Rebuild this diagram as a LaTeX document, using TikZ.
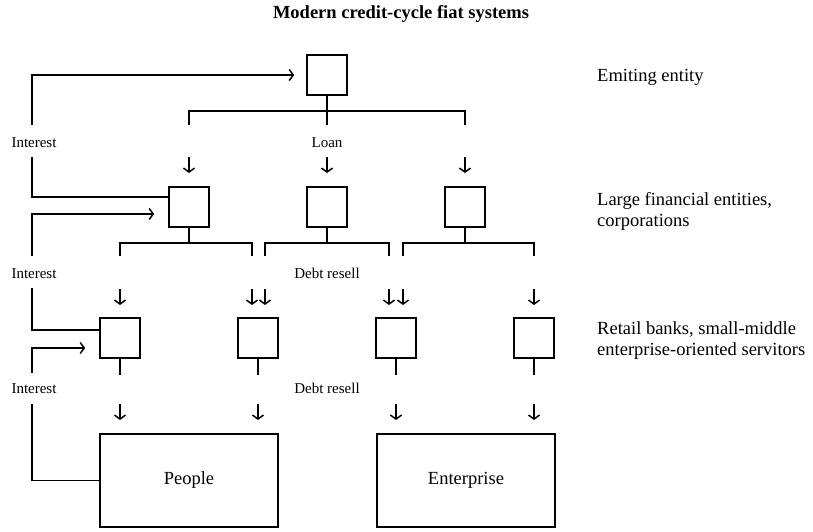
\documentclass[tikz,border=0pt]{standalone}
\usepackage{fontspec}
\setmainfont{Liberation Serif}
\usetikzlibrary{arrows.meta}
\tikzset{
  ent/.style={draw,line width=1.7pt,minimum width=40pt,minimum height=40pt,inner sep=0pt},
  sink/.style={draw,line width=1.7pt,minimum width=178pt,minimum height=93pt,inner sep=0pt,font=\fontsize{18.5}{21}\selectfont},
  lnk/.style={line width=1.7pt},
  flow/.style={line width=1.5pt,-{Straight Barb[length=4pt,width=11pt]}},
  tag/.style={font=\fontsize{15}{17}\selectfont,anchor=base,inner sep=0pt},
  tier/.style={font=\fontsize{18.5}{21}\selectfont,anchor=west,align=left,inner sep=0pt},
}
\begin{document}
\begin{tikzpicture}[x=1pt,y=1pt,yscale=-1]
  \useasboundingbox (0,0) rectangle (813,531);
  \node[font=\fontsize{18.5}{21}\selectfont\bfseries,anchor=base,inner sep=0pt] (title) at (401,18) {Modern credit-cycle fiat systems};
  % boxes
  \node[ent] (emit) at (327,75) {};
  \node[ent] (big1) at (189,207) {};
  \node[ent] (big2) at (327,207) {};
  \node[ent] (big3) at (465,207) {};
  \node[ent] (bank1) at (120,338) {};
  \node[ent] (bank2) at (258,338) {};
  \node[ent] (bank3) at (396,338) {};
  \node[ent] (bank4) at (534,338) {};
  \node[sink] (people) at (189,480.5) {People};
  \node[sink] (firms) at (466,480.5) {Enterprise};
  % tier texts
  \node[tier] (emitname) at (597,77) {Emiting entity};
  \node[tier] (bigname) at (597,211.5) {Large financial entities,\\corporations};
  \node[tier] (bankname) at (597,341) {Retail banks, small-middle\\enterprise-oriented servitors};
  % flow labels
  \node[tag] (int1) at (34,147) {Interest};
  \node[tag] (loan) at (327,147) {Loan};
  \node[tag] (int2) at (34,278) {Interest};
  \node[tag] (resell1) at (327,278) {Debt resell};
  \node[tag] (int3) at (34,393) {Interest};
  \node[tag] (resell2) at (327,393) {Debt resell};
  % emitting entity -> large entities
  \draw[lnk] (emit.south) -- (327,125);
  \draw[lnk] (189,125) |- (465,111) -- (465,125);
  \foreach \x in {189,327,465}
    \draw[flow] (\x,157) -- (\x,173);
  % large entities -> banks
  \draw[lnk] (big1.south) -- (189,243);
  \draw[lnk] (120,256) |- (252,243) -- (252,256);
  \draw[lnk] (big2.south) -- (327,243);
  \draw[lnk] (265,256) |- (389,243) -- (389,256);
  \draw[lnk] (big3.south) -- (465,243);
  \draw[lnk] (403,256) |- (534,243) -- (534,256);
  \foreach \x in {120,252,265,389,403,534}
    \draw[flow] (\x,289) -- (\x,305);
  % banks -> people, enterprise
  \foreach \b in {bank1,bank2,bank3,bank4}
    \draw[lnk] (\b.south) -- ++(0,16);
  \foreach \x in {120,258,396,534}
    \draw[flow] (\x,404) -- (\x,420);
  % interest back up
  \draw[flow] (32,125) |- ([xshift=-12pt]emit.west);
  \draw[lnk] (32,157) |- ([yshift=-10pt]big1.west);
  \draw[flow] (32,256) |- ([xshift=-14pt,yshift=7pt]big1.west);
  \draw[lnk] (32,288) |- ([yshift=-8pt]bank1.west);
  \draw[flow] (32,373) |- ([xshift=-14pt,yshift=10pt]bank1.west);
  \draw[lnk] (32,404) |- (people.west);
\end{tikzpicture}
\end{document}
